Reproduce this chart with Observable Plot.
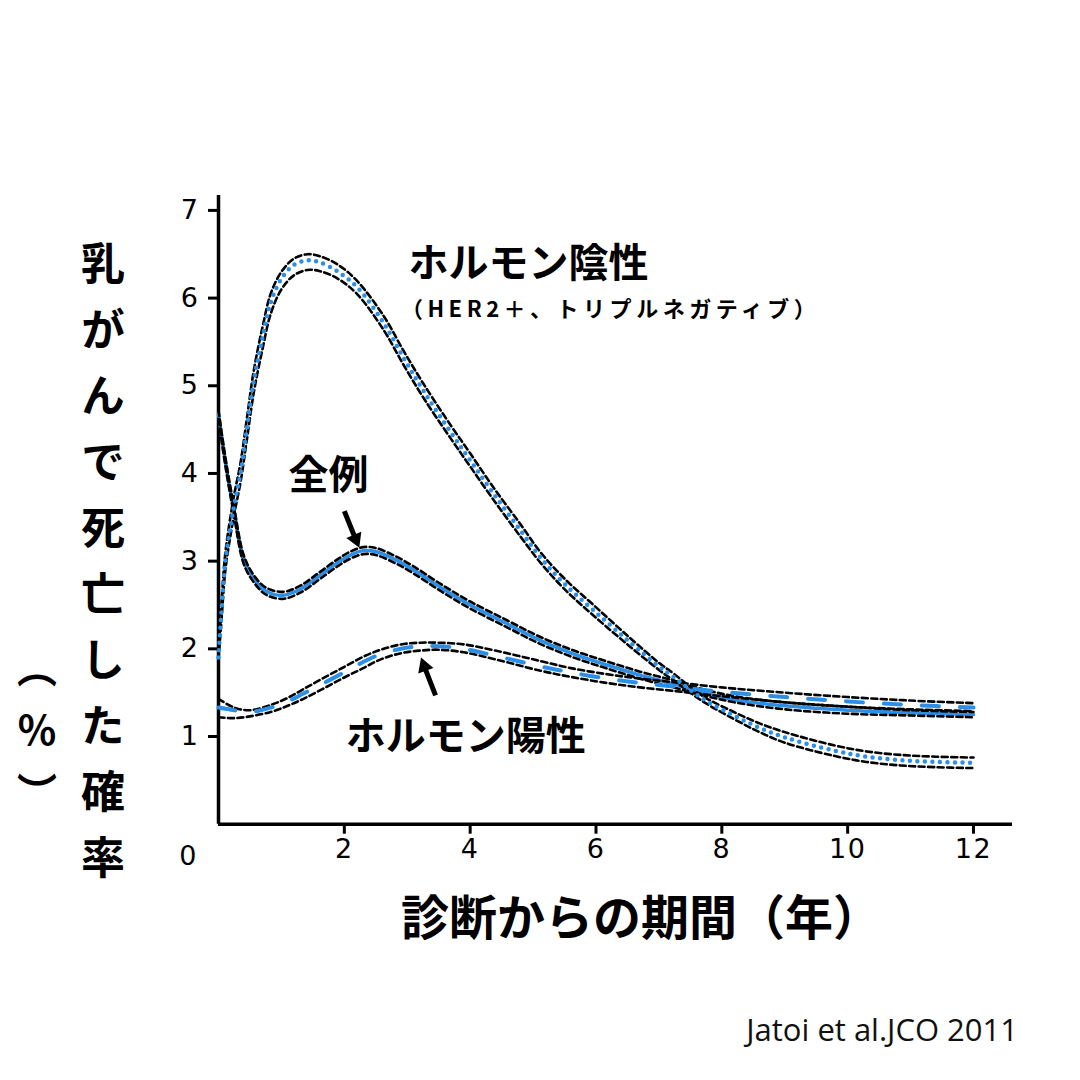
<!DOCTYPE html>
<html><head><meta charset="utf-8">
<script src="https://cdn.jsdelivr.net/npm/d3@7"></script>
<script src="https://cdn.jsdelivr.net/npm/@observablehq/plot@0.6"></script>
<style>
html,body{margin:0;padding:0;background:#fff;}
#wrap{position:relative;width:1080px;height:1080px;overflow:hidden;background:#fff;}
#chart{position:absolute;left:0;top:0;}
.vt{position:absolute;writing-mode:vertical-rl;text-orientation:upright;font-family:"Noto Sans CJK JP";font-weight:700;color:#000;line-height:1;white-space:nowrap;}
#yt{left:81px;top:241px;font-size:44px;letter-spacing:22px;}
#yu{left:17px;top:648px;font-size:40px;letter-spacing:22px;}
#xt{position:absolute;left:0;width:1282px;text-align:center;top:890px;font-family:"Noto Sans CJK JP";font-weight:700;font-size:48px;line-height:1;color:#000;white-space:nowrap;}
#cap{position:absolute;right:62px;top:1008px;font-family:"Open Sans";font-size:31px;color:#111;white-space:nowrap;}
.sub text{letter-spacing:4.5px;}
#chart g[aria-label$="tick label"] text, #chart .num text{letter-spacing:1.5px;}
</style></head>
<body><div id="wrap"><div id="chart"></div>
<div id="yt" class="vt">乳がんで死亡した確率</div>
<div id="yu" class="vt">（%）</div>
<div id="xt">診断からの期間（年）</div>
<div id="cap">Jatoi et al.JCO 2011</div>
</div>
<script>
// Hormone-negative (HER2+, triple negative)
const negX = [0,0.05,0.11,0.24,0.35,0.45,0.56,0.7,0.83,1.0,1.2,1.41,1.6,1.9,2.21,2.63,2.94,3.26,3.69,4.0,4.37,4.8,5.12,5.5,5.96,6.5,7.0,7.23,7.7,8.19,8.6,9.0,9.78,10.3,10.84,11.4,12];
const negMid = [1.9,2.45,3.0,3.6,4.0,4.5,5.05,5.55,5.95,6.22,6.38,6.43,6.41,6.3,6.12,5.71,5.32,4.94,4.47,4.15,3.77,3.35,3.04,2.74,2.44,2.1,1.8,1.68,1.43,1.24,1.1,0.99,0.84,0.77,0.73,0.71,0.70];
const negUp  = [1.95,2.55,3.1,3.72,4.12,4.62,5.17,5.67,6.05,6.3,6.45,6.5,6.48,6.38,6.19,5.79,5.4,5.02,4.55,4.23,3.84,3.42,3.1,2.8,2.5,2.15,1.84,1.72,1.46,1.28,1.15,1.05,0.9,0.83,0.79,0.77,0.76];
const negLo  = [1.88,2.35,2.9,3.5,3.9,4.38,4.92,5.42,5.82,6.1,6.26,6.32,6.31,6.22,6.04,5.63,5.24,4.86,4.4,4.08,3.7,3.28,2.98,2.68,2.38,2.05,1.76,1.64,1.4,1.2,1.05,0.93,0.78,0.71,0.67,0.65,0.64];
// All cases
const allX = [0,0.07,0.14,0.24,0.4,0.56,0.75,1.02,1.3,1.6,1.89,2.1,2.3,2.5,2.8,3.1,3.53,4.0,4.6,5.1,5.65,6.2,6.7,7.23,7.7,8.2,9,10,11,12];
const allMid = [4.68,4.32,4.0,3.6,3.02,2.8,2.66,2.61,2.68,2.83,2.98,3.07,3.12,3.11,3.02,2.9,2.7,2.5,2.28,2.1,1.94,1.81,1.7,1.6,1.5,1.42,1.35,1.3,1.27,1.25];
const allUp  = [4.72,4.37,4.05,3.65,3.07,2.84,2.7,2.65,2.72,2.87,3.02,3.11,3.16,3.15,3.06,2.94,2.74,2.54,2.32,2.14,1.98,1.85,1.74,1.64,1.54,1.46,1.39,1.34,1.31,1.29];
const allLo  = [4.62,4.27,3.95,3.55,2.97,2.76,2.62,2.57,2.64,2.79,2.94,3.03,3.08,3.07,2.98,2.86,2.66,2.46,2.24,2.06,1.9,1.77,1.66,1.56,1.47,1.39,1.31,1.26,1.24,1.22];
// Hormone-positive
const posX = [0,0.25,0.5,0.83,1.1,1.35,1.65,1.99,2.3,2.58,2.9,3.21,3.5,3.9,4.4,5.12,5.6,6.18,6.7,7.23,8,9,10,11,12];
const posMid = [1.33,1.3,1.28,1.33,1.4,1.49,1.6,1.73,1.85,1.94,2.0,2.03,2.03,2.0,1.92,1.8,1.73,1.66,1.61,1.57,1.51,1.45,1.4,1.36,1.33];
const posUp  = [1.43,1.33,1.3,1.36,1.44,1.54,1.66,1.79,1.91,1.99,2.05,2.07,2.07,2.05,1.98,1.86,1.78,1.71,1.66,1.62,1.56,1.5,1.45,1.41,1.38];
const posLo  = [1.22,1.21,1.23,1.28,1.35,1.43,1.54,1.67,1.78,1.88,1.95,1.98,1.99,1.96,1.88,1.75,1.68,1.61,1.56,1.52,1.46,1.39,1.34,1.3,1.28];

const yTicks = [1,2,3,4,5,6,7];
const xTicks = [2,4,6,8,10,12];
const originLabel = "0";

const titleNeg = "ホルモン陰性";
const subNeg = "（HER2＋、トリプルネガティブ）";
const labelMid = ["全例","ホルモン陽性"];
const labelMidX = [1.75,3.93];
const labelMidY = [3.97,0.99];

// annotation arrows: shaft tail -> head centre, head rotation (deg)
const arrowX1 = [2.0,3.45];
const arrowY1 = [3.57,1.47];
const headX = [2.18,3.27];
const headY = [3.25,1.80];
const headRot = [157,-20];

function rows(xs, ys, band) { return xs.map((x,i)=>({x, y: ys[i], band})); }
const bands = [
  ...rows(negX,negUp,"negU"),...rows(negX,negLo,"negL"),
  ...rows(allX,allUp,"allU"),...rows(allX,allLo,"allL"),
  ...rows(posX,posUp,"posU"),...rows(posX,posLo,"posL")
];
const negLine = rows(negX,negMid,"neg");
const allLine = rows(allX,allMid,"all");
const posLine = rows(posX,posMid,"pos");
const midLabels = labelMid.map((t,i)=>({t,x:labelMidX[i],y:labelMidY[i]}));
const arrows = arrowX1.map((x1,i)=>({x1,y1:arrowY1[i],x2:headX[i],y2:headY[i],r:headRot[i]}));
const BLUE = "#2b8fe8";
const JP = "Noto Sans CJK JP";
const NUM = "DejaVu Sans";

const plot = Plot.plot({
  width: 1080, height: 1080,
  marginLeft: 218, marginRight: 68, marginTop: 195, marginBottom: 256.3,
  x: {domain: [0, 12.62]},
  y: {domain: [0, 7.17]},
  style: {background: "transparent", overflow: "visible"},
  marks: [
    Plot.axisY({ticks: yTicks, tickSize: 10, tickPadding: 9, label: null, strokeWidth: 3, fontSize: 27, fontFamily: NUM, tickFormat: d => String(d)}),
    Plot.axisX({ticks: xTicks, tickSize: 10, tickPadding: 5, label: null, strokeWidth: 3, fontSize: 27, fontFamily: NUM, tickFormat: d => String(d)}),
    Plot.text([originLabel], {x: 0, y: 0, text: d => d, dx: -30, dy: 32, fontSize: 27, fontFamily: NUM, className: "num"}),
    Plot.ruleX([0], {strokeWidth: 3.5}),
    Plot.ruleY([0], {strokeWidth: 3.5}),
    Plot.line(allLine, {x: "x", y: "y", stroke: BLUE, strokeWidth: 3.5, curve: "catmull-rom"}),
    Plot.line(bands, {x: "x", y: "y", z: "band", stroke: "#000", strokeWidth: 2.6, strokeDasharray: "6,3.5", curve: "catmull-rom"}),
    Plot.line(negLine, {x: "x", y: "y", stroke: BLUE, strokeWidth: 4.5, strokeDasharray: "0,7.5", strokeLinecap: "round", curve: "catmull-rom"}),
    Plot.line(posLine, {x: "x", y: "y", stroke: BLUE, strokeWidth: 4, strokeDasharray: "17,21", curve: "catmull-rom"}),
    Plot.link(arrows, {x1: "x1", y1: "y1", x2: "x2", y2: "y2", strokeWidth: 5, stroke: "#000"}),
    Plot.dot(arrows, {x: "x2", y: "y2", symbol: "triangle", r: 6, rotate: "r", fill: "#000", stroke: "none"}),
    Plot.text([titleNeg], {x: 3.02, y: 6.39, text: d => d, textAnchor: "start", fontSize: 40, fontWeight: 700, fontFamily: JP, fill: "#000"}),
    Plot.text([subNeg], {x: 2.9, y: 5.86, text: d => d, textAnchor: "start", fontSize: 22, fontWeight: 700, fontFamily: JP, fill: "#000", className: "sub"}),
    Plot.text(midLabels, {x: "x", y: "y", text: "t", textAnchor: "middle", fontSize: 40, fontWeight: 700, fontFamily: JP, fill: "#000"})
  ]
});
document.getElementById("chart").appendChild(plot);
</script>
</body></html>
